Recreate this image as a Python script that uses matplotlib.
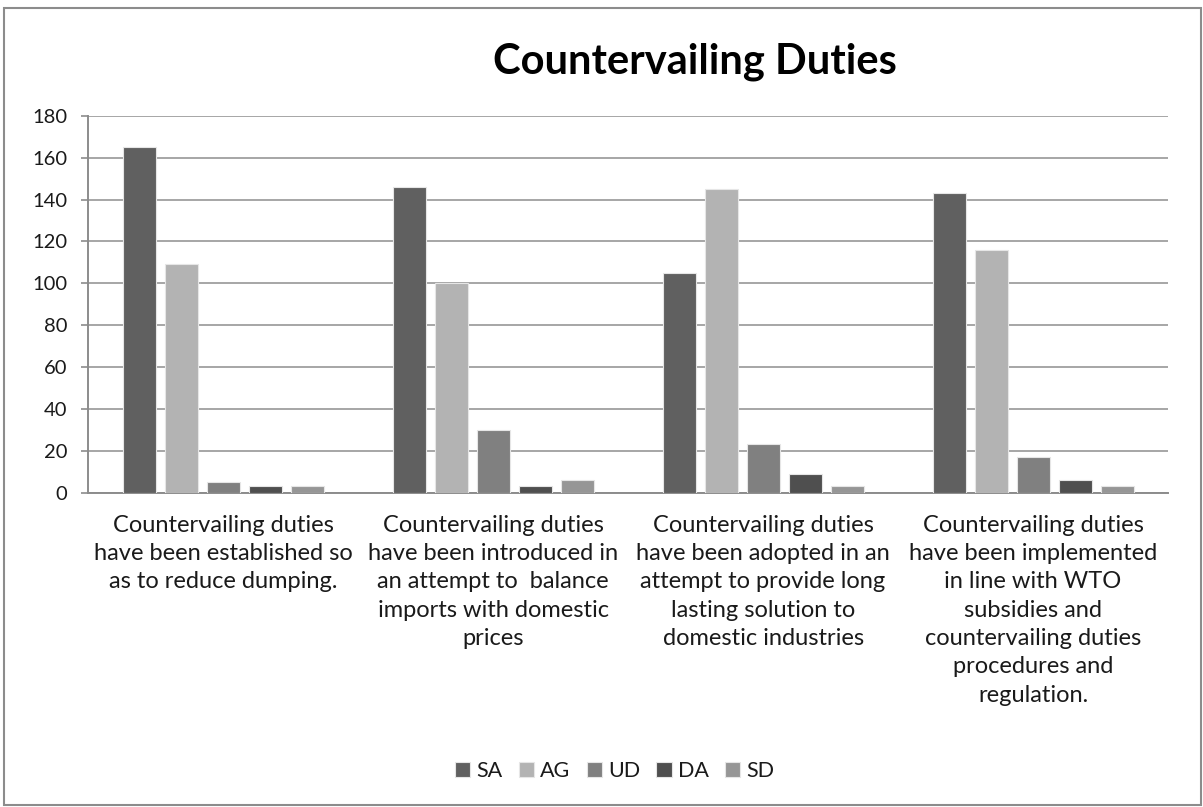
import matplotlib
matplotlib.use("Agg")
import matplotlib.pyplot as plt
from matplotlib.patches import Rectangle
import numpy as np

categories = [
    "Countervailing duties\nhave been established so\nas to reduce dumping.",
    "Countervailing duties\nhave been introduced in\nan attempt to  balance\nimports with domestic\nprices",
    "Countervailing duties\nhave been adopted in an\nattempt to provide long\nlasting solution to\ndomestic industries",
    "Countervailing duties\nhave been implemented\nin line with WTO\nsubsidies and\ncountervailing duties\nprocedures and\nregulation.",
]
series_names = ["SA", "AG", "UD", "DA", "SD"]
SA = [165, 146, 105, 143]
AG = [109, 100, 145, 116]
UD = [5, 30, 23, 17]
DA = [3, 3, 9, 6]
SD = [3, 6, 3, 3]
y_ticks = [0, 20, 40, 60, 80, 100, 120, 140, 160, 180]

colors = ["#606060", "#b3b3b3", "#808080", "#4f4f4f", "#969696"]
series = [SA, AG, UD, DA, SD]

plt.rcParams["font.family"] = ["Lato", "DejaVu Sans"]

fig = plt.figure(figsize=(12.03, 8.07), dpi=100)
ax = fig.add_axes([0.0732, 0.3897, 0.8978, 0.4666])

x = np.arange(len(categories))
step = 0.1556
width = 0.122
for i, (vals, name, c) in enumerate(zip(series, series_names, colors)):
    ax.bar(x + (i - 2) * step, vals, width=width, color=c, label=name,
           edgecolor="#e6e6e6", linewidth=0.8, zorder=3)

ax.set_xlim(-0.5, len(categories) - 0.5)
ax.set_ylim(0, 180)
ax.set_yticks(y_ticks)
ax.set_yticklabels([str(t) for t in y_ticks], fontsize=14.5, color="#1a1a1a")
ax.yaxis.grid(True, color="#a6a6a6", linewidth=1.4, zorder=0)
ax.set_axisbelow(True)

ax.set_xticks(x)
ax.set_xticklabels(categories, fontsize=17, color="#1a1a1a",
                   linespacing=1.43, multialignment="center")
ax.tick_params(axis="x", length=0, pad=16)
ax.tick_params(axis="y", length=5, width=1.2, color="#8c8c8c", pad=10)

for side in ["top", "right"]:
    ax.spines[side].set_visible(False)
for side in ["left", "bottom"]:
    ax.spines[side].set_color("#8c8c8c")
    ax.spines[side].set_linewidth(1.4)

fig.text(0.578, 0.924, "Countervailing Duties", fontsize=30, fontweight="bold",
         ha="center", va="center", color="#000000")

handles, labels = ax.get_legend_handles_labels()
leg = fig.legend(handles, labels, loc="center", bbox_to_anchor=(0.511, 0.044),
                 ncol=5, frameon=False, fontsize=15.5, handlelength=0.7,
                 handleheight=0.7, handletextpad=0.3, columnspacing=0.75)
for t in leg.get_texts():
    t.set_color("#1a1a1a")

fig.patches.append(Rectangle((0.0035, 0.002), 0.995, 0.988, transform=fig.transFigure,
                             fill=False, edgecolor="#8c8c8c", linewidth=1.5))

fig.savefig("out.png", dpi=100, facecolor="white")
